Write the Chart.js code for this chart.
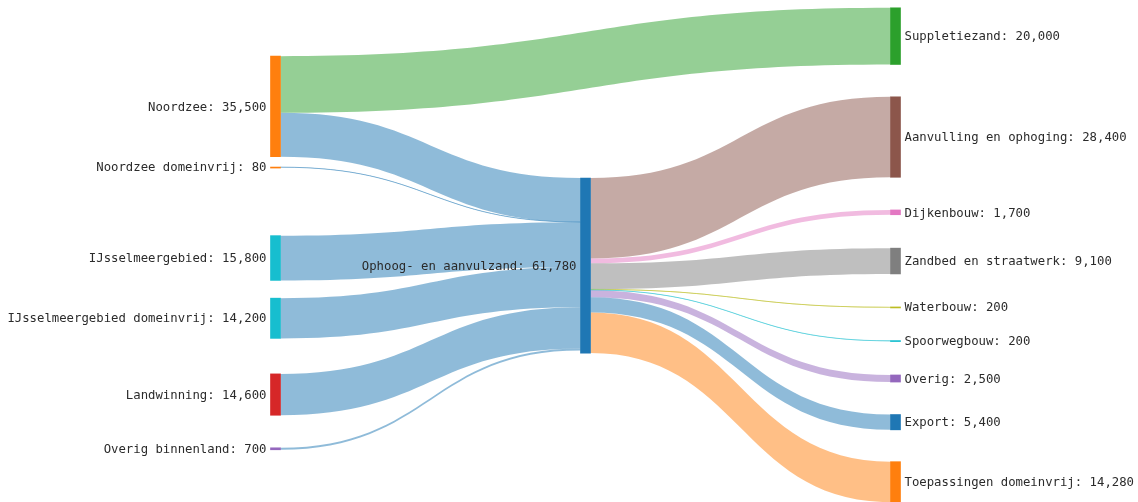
<!DOCTYPE html>
<html>
<head>
<meta charset="utf-8">
<title>Zandstromen</title>
<script src="https://cdn.jsdelivr.net/npm/chart.js@4.4.1/dist/chart.umd.min.js"></script>
<style>
  html, body { margin: 0; padding: 0; background: #fff; }
  #wrap { width: 1138px; height: 502px; position: relative; }
</style>
</head>
<body>
<div id="wrap"><canvas id="myChart"></canvas></div>
<script>
// nodes (in plotly-ish order)
const nodeNames = [
  'Noordzee', 'Noordzee domeinvrij', 'IJsselmeergebied', 'IJsselmeergebied domeinvrij',
  'Landwinning', 'Overig binnenland', 'Ophoog- en aanvulzand',
  'Suppletiezand', 'Aanvulling en ophoging', 'Dijkenbouw', 'Zandbed en straatwerk',
  'Waterbouw', 'Spoorwegbouw', 'Overig', 'Export', 'Toepassingen domeinvrij'
];
const nodeColumn = [0, 0, 0, 0, 0, 0, 1, 2, 2, 2, 2, 2, 2, 2, 2, 2];
const nodeColors = [
  '#ff7f0e', '#ff7f0e', '#17becf', '#17becf', '#d62728', '#9467bd', '#1f77b4',
  '#2ca02c', '#8c564b', '#e377c2', '#7f7f7f', '#bcbd22', '#17becf', '#9467bd', '#1f77b4', '#ff7f0e'
];
// vertical arrangement of node centres, fraction of the plot height (like plotly node.y)
const nodeY = [
  0.212, 0.333, 0.514, 0.634, 0.786, 0.894, 0.529,
  0.072, 0.273, 0.423, 0.520, 0.612, 0.679, 0.754, 0.841, 0.960
];

// links
const linkSource = [0, 0, 1, 2, 3, 4, 5, 6, 6, 6, 6, 6, 6, 6, 6];
const linkTarget = [7, 6, 6, 6, 6, 6, 6, 8, 9, 10, 11, 12, 13, 14, 15];
const linkValue = [20000, 15500, 80, 15800, 14200, 14600, 700, 28400, 1700, 9100, 200, 200, 2500, 5400, 14280];

const Y_MAX = 177200;
const NODE_W = 10;

function hexToRgba(hex, a) {
  var n = parseInt(hex.slice(1), 16);
  return 'rgba(' + (n >> 16) + ',' + ((n >> 8) & 255) + ',' + (n & 255) + ',' + a + ')';
}

// node value = max(in, out)
var inSum = nodeNames.map(() => 0), outSum = nodeNames.map(() => 0);
for (var i = 0; i < linkValue.length; i++) {
  outSum[linkSource[i]] += linkValue[i];
  inSum[linkTarget[i]] += linkValue[i];
}
const nodeValue = nodeNames.map((n, i) => Math.max(inSum[i], outSum[i]));
const nodeTop = nodeNames.map((n, i) => nodeY[i] * Y_MAX - nodeValue[i] / 2);

// offsets of each link at its source and target
var srcOff = [], tgtOff = [];
nodeNames.forEach((n, k) => {
  var outs = [], ins = [];
  for (var i = 0; i < linkValue.length; i++) {
    if (linkSource[i] == k) outs.push(i);
    if (linkTarget[i] == k) ins.push(i);
  }
  outs.sort((a, b) => nodeY[linkTarget[a]] - nodeY[linkTarget[b]]);
  ins.sort((a, b) => nodeY[linkSource[a]] - nodeY[linkSource[b]]);
  var acc = 0;
  outs.forEach(i => { srcOff[i] = acc; acc += linkValue[i]; });
  acc = 0;
  ins.forEach(i => { tgtOff[i] = acc; acc += linkValue[i]; });
});

const sankeyLinks = {
  id: 'sankeyLinks',
  beforeDatasetsDraw(chart) {
    const ctx = chart.ctx, xs = chart.scales.x, ys = chart.scales.y;
    ctx.save();
    for (var i = 0; i < linkValue.length; i++) {
      var s = linkSource[i], t = linkTarget[i];
      var x0 = xs.getPixelForValue(nodeColumn[s]) + NODE_W / 2;
      var x1 = xs.getPixelForValue(nodeColumn[t]) - NODE_W / 2;
      var sy0 = ys.getPixelForValue(nodeTop[s] + srcOff[i]);
      var sy1 = ys.getPixelForValue(nodeTop[s] + srcOff[i] + linkValue[i]);
      var ty0 = ys.getPixelForValue(nodeTop[t] + tgtOff[i]);
      var ty1 = ys.getPixelForValue(nodeTop[t] + tgtOff[i] + linkValue[i]);
      var xm = (x0 + x1) / 2;
      ctx.beginPath();
      ctx.moveTo(x0, sy0);
      ctx.bezierCurveTo(xm, sy0, xm, ty0, x1, ty0);
      ctx.lineTo(x1, ty1);
      ctx.bezierCurveTo(xm, ty1, xm, sy1, x0, sy1);
      ctx.closePath();
      ctx.fillStyle = hexToRgba(nodeColors[t], 0.5);
      ctx.fill();
      if (sy1 - sy0 < 1.5) {
        // hairline links would vanish otherwise
        var a = (sy0 + sy1) / 2, b = (ty0 + ty1) / 2;
        ctx.beginPath();
        ctx.moveTo(x0, a);
        ctx.bezierCurveTo(xm, a, xm, b, x1, b);
        ctx.strokeStyle = hexToRgba(nodeColors[t], 0.6);
        ctx.lineWidth = 0.9;
        ctx.stroke();
      }
    }
    ctx.restore();
  }
};

const sankeyLabels = {
  id: 'sankeyLabels',
  afterDatasetsDraw(chart) {
    const ctx = chart.ctx, xs = chart.scales.x, ys = chart.scales.y;
    ctx.save();
    ctx.font = '12.3px "DejaVu Sans Mono", monospace';
    ctx.fillStyle = '#2b2b2b';
    ctx.textBaseline = 'middle';
    nodeNames.forEach((name, k) => {
      var cx = xs.getPixelForValue(nodeColumn[k]);
      var cy = ys.getPixelForValue(nodeTop[k] + nodeValue[k] / 2) + 1;
      var txt = name + ': ' + nodeValue[k].toLocaleString('en-US');
      if (nodeColumn[k] == 2) {
        ctx.textAlign = 'left';
        ctx.fillText(txt, cx + NODE_W / 2 + 4, cy);
      } else {
        ctx.textAlign = 'right';
        ctx.fillText(txt, cx - NODE_W / 2 - 4, cy);
      }
    });
    ctx.restore();
  }
};

document.addEventListener('DOMContentLoaded', () => {
  const ctx = document.getElementById('myChart').getContext('2d');

  const data = {
    datasets: [{
      label: 'nodes',
      data: nodeNames.map((n, k) => ({ x: nodeColumn[k], y: [nodeTop[k], nodeTop[k] + nodeValue[k]] })),
      backgroundColor: nodeColors,
      borderWidth: 0,
      barThickness: NODE_W,
      minBarLength: 1
    }]
  };

  const config = {
    type: 'bar',
    data: data,
    options: {
      responsive: true,
      maintainAspectRatio: false,
      animation: false,
      layout: { padding: 0 },
      plugins: {
        legend: { display: false },
        tooltip: { enabled: false },
        title: { display: false }
      },
      scales: {
        x: {
          type: 'linear',
          display: false,
          offset: false,
          min: -275.5 / 310,
          max: (1138 - 275.5) / 310
        },
        y: {
          display: false,
          reverse: true,
          min: 0,
          max: Y_MAX
        }
      }
    },
    plugins: [sankeyLinks, sankeyLabels]
  };

  var chart = new Chart(ctx, config);
});
</script>
</body>
</html>
